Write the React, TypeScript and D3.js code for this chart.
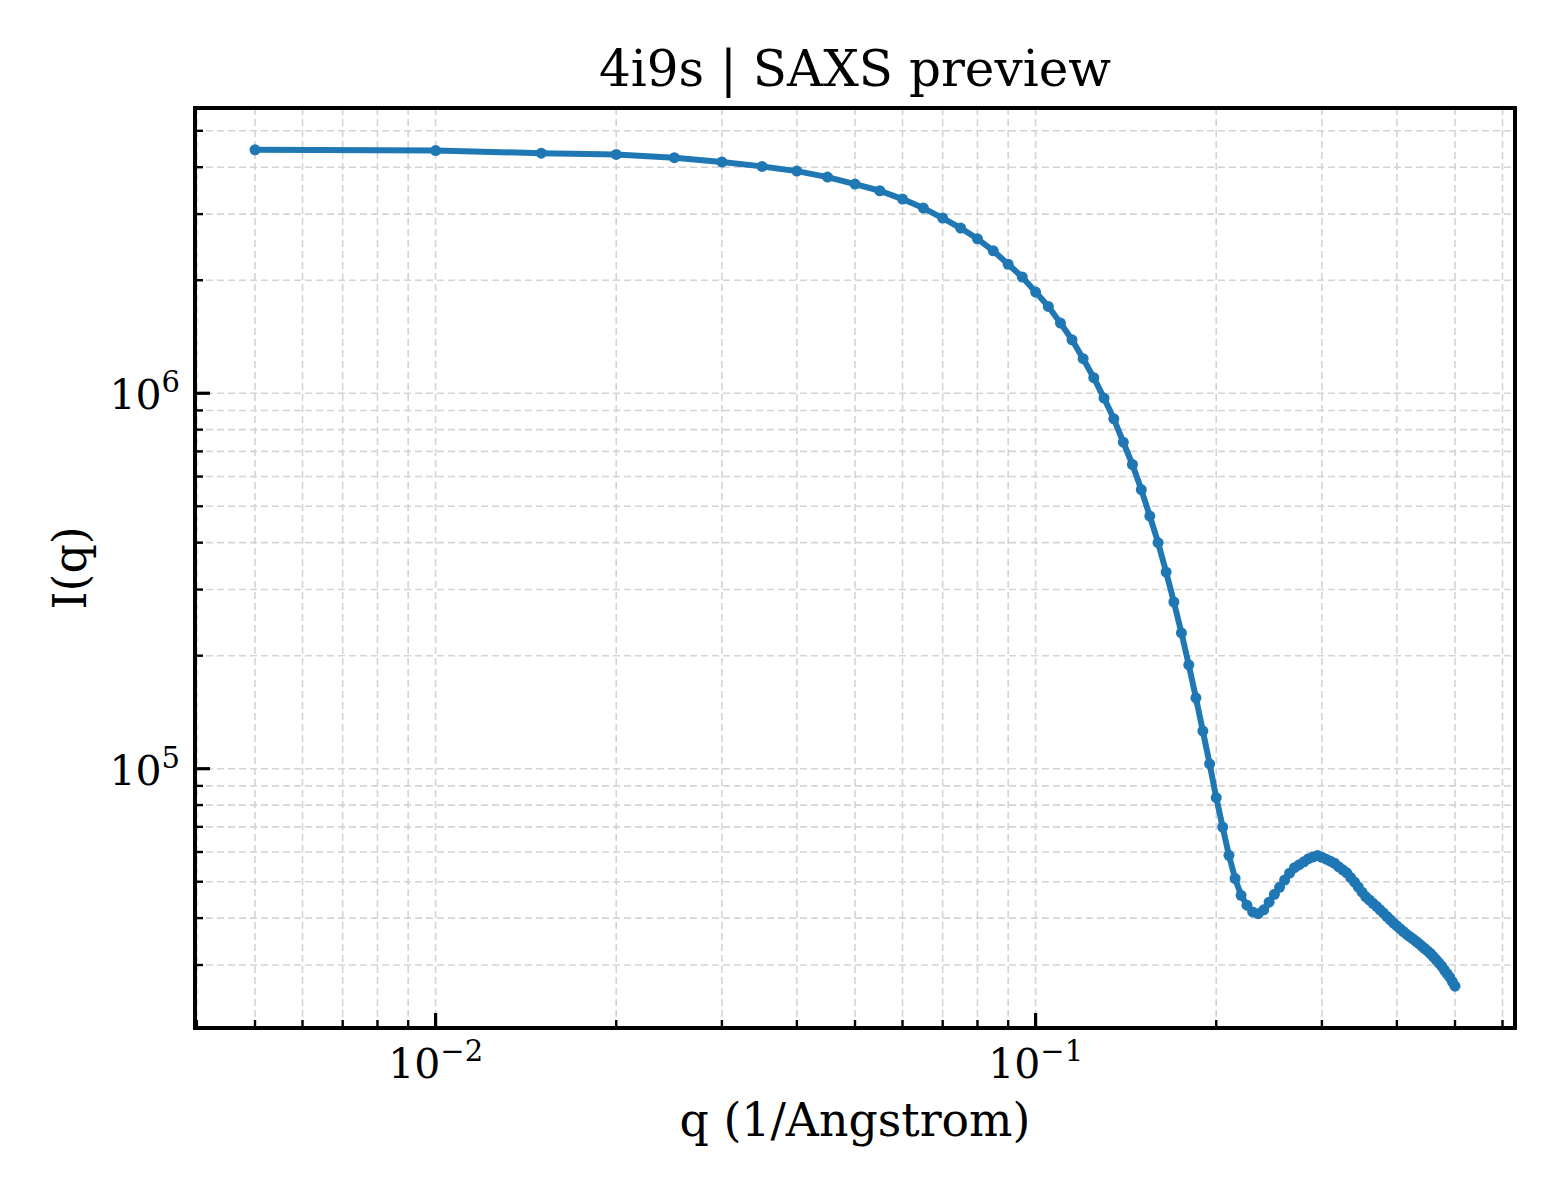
import React from 'react';
import * as d3 from 'd3';

// q (1/Angstrom) sampling of the profile
const qValues = [
  0.005, 0.01, 0.015, 0.02, 0.025, 0.03, 0.035, 0.04, 0.045, 0.05,
  0.055, 0.06, 0.065, 0.07, 0.075, 0.08, 0.085, 0.09, 0.095, 0.1,
  0.105, 0.11, 0.115, 0.12, 0.125, 0.13, 0.135, 0.14, 0.145, 0.15,
  0.155, 0.16, 0.165, 0.17, 0.175, 0.18, 0.185, 0.19, 0.195, 0.2,
  0.205, 0.21, 0.215, 0.22, 0.225, 0.23, 0.235, 0.24, 0.245, 0.25,
  0.255, 0.26, 0.265, 0.27, 0.275, 0.28, 0.285, 0.29, 0.295, 0.3,
  0.305, 0.31, 0.315, 0.32, 0.325, 0.33, 0.335, 0.34, 0.345, 0.35,
  0.355, 0.36, 0.365, 0.37, 0.375, 0.38, 0.385, 0.39, 0.395, 0.4,
  0.405, 0.41, 0.415, 0.42, 0.425, 0.43, 0.435, 0.44, 0.445, 0.45,
  0.455, 0.46, 0.465, 0.47, 0.475, 0.48, 0.485, 0.49, 0.495, 0.5,
];

// I(q)
const intensity = [
  4.45e6, 4.43e6, 4.36e6, 4.325e6, 4.24e6, 4.13e6, 4.02e6, 3.905e6, 3.765e6, 3.607e6,
  3.462e6, 3.29e6, 3.113e6, 2.928e6, 2.754e6, 2.579e6, 2.396e6, 2.206e6, 2.04e6, 1.86e6,
  1.703e6, 1.538e6, 1.388e6, 1.236e6, 1.1e6, 9.71e5, 8.55e5, 7.41e5, 6.46e5, 5.54e5,
  4.71e5, 4.0e5, 3.34e5, 2.78e5, 2.3e5, 1.89e5, 1.545e5, 1.26e5, 1.03e5, 8.37e4,
  6.99e4, 5.88e4, 5.1e4, 4.6e4, 4.33e4, 4.155e4, 4.11e4, 4.21e4, 4.41e4, 4.63e4,
  4.83e4, 5.05e4, 5.27e4, 5.45e4, 5.55e4, 5.65e4, 5.76e4, 5.82e4, 5.87e4, 5.81e4,
  5.74e4, 5.67e4, 5.6e4, 5.48e4, 5.38e4, 5.28e4, 5.13e4, 4.99e4, 4.84e4, 4.69e4,
  4.56e4, 4.47e4, 4.38e4, 4.3e4, 4.21e4, 4.125e4, 4.04e4, 3.96e4, 3.88e4, 3.815e4,
  3.75e4, 3.685e4, 3.625e4, 3.575e4, 3.525e4, 3.475e4, 3.425e4, 3.37e4, 3.32e4, 3.27e4,
  3.22e4, 3.16e4, 3.1e4, 3.04e4, 2.98e4, 2.91e4, 2.845e4, 2.785e4, 2.71e4, 2.635e4,
];

const xDecades = [-3, -2, -1];
const yDecades = [4, 5, 6];
const xLabelExps = [-2, -1];
const yLabelExps = [5, 6];

const title = '4i9s | SAXS preview';
const xTitle = 'q (1/Angstrom)';
const yTitle = 'I(q)';

const W = 1560;
const H = 1200;
const margin = { top: 108, right: 45, bottom: 172, left: 195 };
const font = "'DejaVu Serif', 'Liberation Serif', serif";
const blue = '#1f77b4';

// matplotlib-style 5% margins in log space
function logPad(values: number[]): [number, number] {
  const lo = Math.log10(d3.min(values)!);
  const hi = Math.log10(d3.max(values)!);
  const pad = (hi - lo) * 0.05;
  return [10 ** (lo - pad), 10 ** (hi + pad)];
}

const App: React.FC = () => {
  const x0 = margin.left;
  const x1 = W - margin.right;
  const y0 = margin.top;
  const y1 = H - margin.bottom;

  const x = d3.scaleLog().domain(logPad(qValues)).range([x0, x1]);
  const y = d3.scaleLog().domain(logPad(intensity)).range([y1, y0]);

  const [xd0, xd1] = x.domain();
  const [yd0, yd1] = y.domain();

  const xTicks = xDecades.flatMap(e => d3.range(1, 10).map(k => ({ v: k * 10 ** e, major: k === 1 })))
    .filter(t => t.v >= xd0 && t.v <= xd1);
  const yTicks = yDecades.flatMap(e => d3.range(1, 10).map(k => ({ v: k * 10 ** e, major: k === 1 })))
    .filter(t => t.v >= yd0 && t.v <= yd1);

  const pts = qValues.map((q, i) => [x(q), y(intensity[i])] as [number, number]);
  const path = d3.line()(pts) || '';

  const gridStyle = { stroke: '#d4d4d4', strokeWidth: 1.6, strokeDasharray: '7,4' };

  return (
    <div style={{ position: 'absolute', left: 0, top: 0 }}>
      <svg width={W} height={H} style={{ display: 'block', background: '#fff' }} fontFamily={font}>
        {/* grid */}
        <g>
          {xTicks.map((t, i) => (
            <line key={`gx${i}`} x1={x(t.v)} x2={x(t.v)} y1={y0} y2={y1} {...gridStyle} />
          ))}
          {yTicks.map((t, i) => (
            <line key={`gy${i}`} x1={x0} x2={x1} y1={y(t.v)} y2={y(t.v)} {...gridStyle} />
          ))}
        </g>

        {/* data */}
        <path d={path} fill="none" stroke={blue} strokeWidth={6} strokeLinejoin="round" />
        {pts.map((p, i) => (
          <circle key={`p${i}`} cx={p[0]} cy={p[1]} r={5.5} fill={blue} />
        ))}

        {/* ticks (inward) */}
        {xTicks.map((t, i) => (
          <line key={`tx${i}`} x1={x(t.v)} x2={x(t.v)} y1={y1} y2={y1 - (t.major ? 15 : 8)}
            stroke="#000" strokeWidth={t.major ? 3.2 : 2.4} />
        ))}
        {yTicks.map((t, i) => (
          <line key={`ty${i}`} x1={x0} x2={x0 + (t.major ? 15 : 8)} y1={y(t.v)} y2={y(t.v)}
            stroke="#000" strokeWidth={t.major ? 3.2 : 2.4} />
        ))}

        {/* frame */}
        <rect x={x0} y={y0} width={x1 - x0} height={y1 - y0} fill="none" stroke="#000" strokeWidth={4} />

        {/* tick labels */}
        {xLabelExps.map(e => (
          <text key={`lx${e}`} x={x(10 ** e)} y={y1 + 50} textAnchor="middle" fontSize={41} fill="#000">
            10<tspan dy={-17} fontSize={29}>{`\u2212${-e}`}</tspan>
          </text>
        ))}
        {yLabelExps.map(e => (
          <text key={`ly${e}`} x={x0 - 15} y={y(10 ** e) + 16} textAnchor="end" fontSize={41} fill="#000">
            10<tspan dy={-17} fontSize={29}>{`${e}`}</tspan>
          </text>
        ))}

        {/* axis titles */}
        <text x={(x0 + x1) / 2} y={1136} textAnchor="middle" fontSize={45.8} fill="#000">{xTitle}</text>
        <text transform={`translate(86,${(y0 + y1) / 2}) rotate(-90)`} textAnchor="middle" fontSize={45.8} fill="#000">
          {yTitle}
        </text>

        {/* title */}
        <text x={(x0 + x1) / 2} y={86} textAnchor="middle" fontSize={50} fill="#000">{title}</text>
      </svg>
    </div>
  );
};

export default App;
